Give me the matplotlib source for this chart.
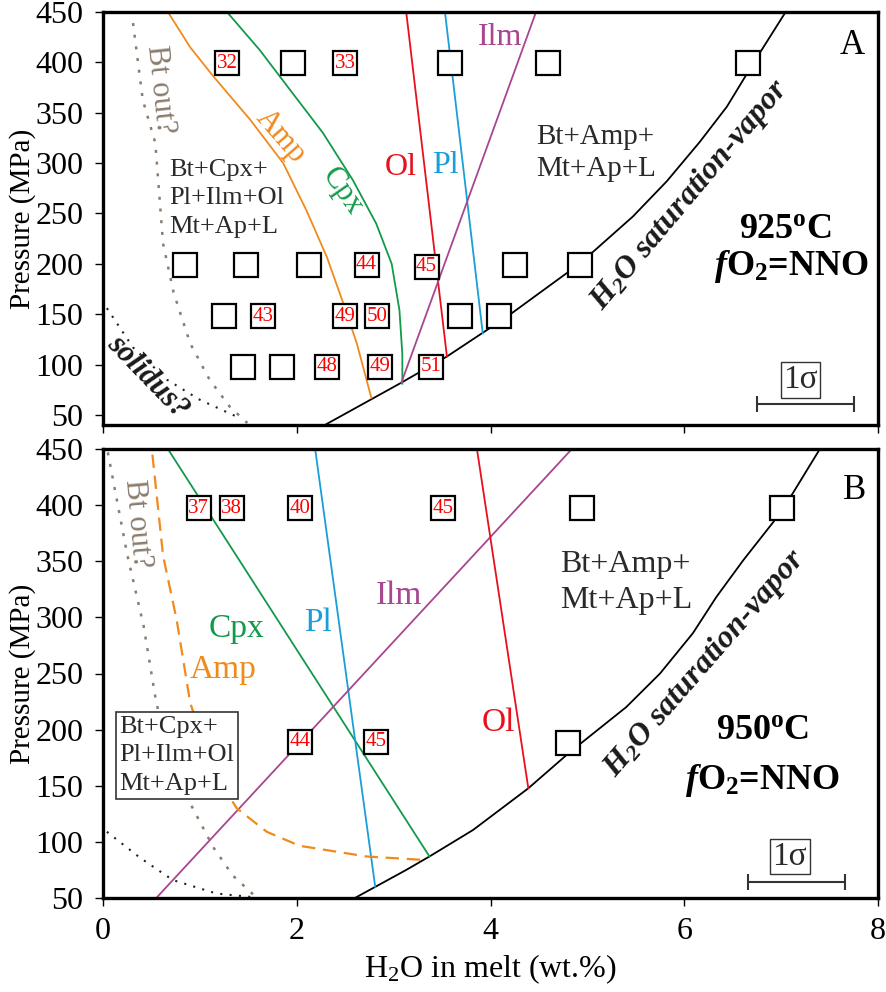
import matplotlib
matplotlib.use("Agg")
import matplotlib.pyplot as plt

plt.rcParams['font.family'] = ['Liberation Serif', 'DejaVu Serif']
plt.rcParams['mathtext.fontset'] = 'custom'
plt.rcParams['mathtext.rm'] = 'Liberation Serif'
plt.rcParams['mathtext.it'] = 'Liberation Serif:italic:bold'
plt.rcParams['mathtext.bf'] = 'Liberation Serif:bold'
plt.rcParams['mathtext.default'] = 'regular'

# ---- panel A (925 C) ----
a_run_x = [1.28, 1.96, 2.50, 3.58, 4.59, 6.66,
           0.85, 1.48, 2.13, 2.72, 3.34, 4.25, 4.92,
           1.25, 1.65, 2.50, 2.83, 3.68, 4.09,
           1.45, 1.85, 2.31, 2.86, 3.39]
a_run_p = [399, 399, 399, 399, 399, 399,
           199, 199, 199, 199, 197, 199, 199,
           148, 148, 148, 148, 148, 148,
           98, 98, 98, 98, 98]
a_run_lab = ['32', '', '33', '', '', '',
             '', '', '', '44', '45', '', '',
             '', '43', '49', '50', '', '',
             '', '', '48', '49', '51']

a_sat_x = [2.29, 3.07, 3.55, 3.99, 4.22, 4.79, 5.06, 5.47, 5.82, 6.16, 6.44, 6.63, 6.81, 7.04]
a_sat_p = [40, 81.5, 108, 136, 151, 191, 212, 247, 282, 321, 356, 386, 414, 449]
a_amp_x = [0.67, 0.90, 1.14, 1.52, 1.86, 2.10, 2.31, 2.48, 2.62, 2.77]
a_amp_p = [450, 415, 386, 343, 300, 253, 207, 161, 121, 67]
a_cpx_x = [1.28, 1.62, 1.96, 2.27, 2.58, 2.82, 2.98, 3.06, 3.09, 3.09]
a_cpx_p = [450, 412, 369, 330, 283, 240, 200, 154, 110, 81]
a_ol_x = [3.13, 3.55]
a_ol_p = [450, 108]
a_pl_x = [3.53, 3.92]
a_pl_p = [450, 131]
a_ilm_x = [4.47, 3.08]
a_ilm_p = [450, 82]
a_bt_x = [0.31, 0.41, 0.54, 0.62, 0.73, 0.90, 1.10, 1.31, 1.49]
a_bt_p = [439, 363, 320, 220, 171, 121, 85, 58, 42]
a_sol_x = [0.04, 0.31, 0.66, 1.00, 1.41]
a_sol_p = [156, 117, 85, 65, 47]

# ---- panel B (950 C) ----
b_run_x = [0.99, 1.33, 2.03, 3.51, 4.94, 7.01, 2.03, 2.82, 4.80]
b_run_p = [397, 397, 397, 397, 397, 397, 189, 189, 188]
b_run_lab = ['37', '38', '40', '45', '', '', '44', '45', '']

b_sat_x = [2.60, 3.13, 3.37, 3.82, 4.39, 4.82, 5.40, 5.75, 6.09, 6.33, 6.61, 6.92, 7.12, 7.40]
b_sat_p = [50, 75, 87, 110.6, 147.7, 180, 220, 250, 286, 318, 351, 385, 410.5, 450]
b_cpx_x = [0.67, 3.37]
b_cpx_p = [450, 87]
b_pl_x = [2.19, 2.81]
b_pl_p = [450, 60]
b_ilm_x = [0.55, 4.84]
b_ilm_p = [50, 450]
b_ol_x = [3.86, 4.39]
b_ol_p = [450, 148]
b_amp_x = [0.51, 0.62, 0.76, 0.90, 1.05, 1.25, 1.38, 1.69, 2.03, 2.72, 3.29]
b_amp_p = [445, 355, 298, 224, 185, 148, 130, 109, 96.5, 87, 84]
b_bt_x = [0.05, 0.25, 0.42, 0.55, 0.70, 0.92, 1.14, 1.34, 1.59]
b_bt_p = [447, 356, 292, 224, 175, 131, 95, 70, 50]
b_sol_x = [0.04, 0.38, 0.72, 1.17, 1.52]
b_sol_p = [109, 86, 66, 54, 51]

ORANGE = '#f08a1c'
GREEN = '#129a4a'
RED = '#e8101c'
BLUE = '#1a9ed8'
PURPLE = '#a8468f'
GREY = '#8a7c6e'
TXT = '#2a2a2a'

fig = plt.figure(figsize=(8.86, 9.92), dpi=100)
axA = fig.add_axes([103 / 886, (992 - 425) / 992, 775 / 886, 413 / 992])
axB = fig.add_axes([103 / 886, (992 - 898) / 992, 775 / 886, 449 / 992])


def runs(ax, xs, ps, labs):
    ax.plot(xs, ps, ls='none', marker='s', ms=17, mfc='white', mec='black',
            mew=1.6, zorder=5)
    for x, p, lab in zip(xs, ps, labs):
        if lab:
            ax.text(x, p, lab, color='red', fontsize=15, ha='center',
                    va='center', zorder=6)


def frame(ax, ylo):
    ax.set_xlim(0, 8)
    ax.set_ylim(ylo, 450)
    ax.set_xticks([0, 2, 4, 6, 8])
    ax.set_yticks(range(50, 451, 50))
    for s in ax.spines.values():
        s.set_linewidth(2.4)
    ax.tick_params(direction='out', length=6, width=1, labelsize=23, pad=8)
    ax.set_ylabel('Pressure (MPa)', fontsize=21)
    ax.yaxis.set_label_coords(-0.086, 0.5)


def sigma(ax, xc, py, tx, ty):
    ax.errorbar([xc], [py], xerr=[0.5], fmt='none', ecolor='#333333',
                elinewidth=1.5, capsize=6, capthick=1.5)
    ax.text(tx, ty, '1σ', fontsize=24, ha='center', va='center', color=TXT,
            bbox=dict(boxstyle='square,pad=0.08', fc='white', ec='#333333', lw=1))


# ---------- A ----------
ax = axA
frame(ax, 40)
ax.tick_params(labelbottom=False)
ax.plot(a_sat_x, a_sat_p, color='black', lw=1.3)
ax.plot(a_amp_x, a_amp_p, color=ORANGE, lw=1.3)
ax.plot(a_cpx_x, a_cpx_p, color=GREEN, lw=1.3)
ax.plot(a_ol_x, a_ol_p, color=RED, lw=1.3)
ax.plot(a_pl_x, a_pl_p, color=BLUE, lw=1.3)
ax.plot(a_ilm_x, a_ilm_p, color=PURPLE, lw=1.3)
ax.plot(a_bt_x, a_bt_p, color=GREY, lw=1.8, ls=(0, (1.2, 3.5)))
ax.plot(a_sol_x, a_sol_p, color='#222222', lw=1.5, ls=(0, (1, 3.5)))
runs(ax, a_run_x, a_run_p, a_run_lab)

ax.text(0.59, 373, 'Bt out?', color=GREY, fontsize=22, rotation=-84,
        ha='center', va='center')
ax.text(1.83, 326, 'Amp', color=ORANGE, fontsize=22, rotation=-49,
        ha='center', va='center')
ax.text(2.47, 272, 'Cpx', color=GREEN, fontsize=22, rotation=-55,
        ha='center', va='center')
ax.text(3.07, 296, 'Ol', color=RED, fontsize=23, ha='center', va='center')
ax.text(3.53, 298, 'Pl', color=BLUE, fontsize=23, ha='center', va='center')
ax.text(4.10, 425, 'Ilm', color=PURPLE, fontsize=23, ha='center', va='center')
ax.text(0.68, 265, 'Bt+Cpx+\nPl+Ilm+Ol\nMt+Ap+L', color=TXT, fontsize=19,
        ha='left', va='center', linespacing=1.38)
ax.text(4.47, 310, 'Bt+Amp+\nMt+Ap+L', color=TXT, fontsize=21,
        ha='left', va='center', linespacing=1.3)
ax.text(0.46, 88, 'solidus?', fontsize=22, fontweight='bold', style='italic',
        rotation=-46, ha='center', va='center', color='#1a1a1a')
ax.text(6.06, 268, 'H$_2$O saturation-vapor', fontsize=23, fontweight='bold',
        style='italic', rotation=50, ha='center', va='center', color='#1a1a1a')
ax.text(7.04, 234, '925$^o$C', fontsize=26, fontweight='bold', ha='center',
        va='center')
ax.text(7.11, 197, r'$\it{f}$O$_2$=NNO', fontsize=26, fontweight='bold',
        ha='center', va='center')
ax.text(7.73, 417, 'A', fontsize=25, ha='center', va='center')
sigma(ax, 7.25, 61, 7.2, 85)

# ---------- B ----------
ax = axB
frame(ax, 50)
ax.plot(b_sat_x, b_sat_p, color='black', lw=1.3)
ax.plot(b_cpx_x, b_cpx_p, color=GREEN, lw=1.3)
ax.plot(b_pl_x, b_pl_p, color=BLUE, lw=1.3)
ax.plot(b_ilm_x, b_ilm_p, color=PURPLE, lw=1.3)
ax.plot(b_ol_x, b_ol_p, color=RED, lw=1.3)
ax.plot(b_amp_x, b_amp_p, color=ORANGE, lw=1.6, ls=(0, (6, 3.5)))
ax.plot(b_bt_x, b_bt_p, color=GREY, lw=1.8, ls=(0, (1.2, 3.5)))
ax.plot(b_sol_x, b_sol_p, color='#222222', lw=1.5, ls=(0, (1, 3.5)))
runs(ax, b_run_x, b_run_p, b_run_lab)

ax.text(0.35, 384, 'Bt out?', color=GREY, fontsize=22, rotation=-85,
        ha='center', va='center')
ax.text(1.38, 290, 'Cpx', color=GREEN, fontsize=24, ha='center', va='center')
ax.text(1.24, 253, 'Amp', color=ORANGE, fontsize=24, ha='center', va='center')
ax.text(2.22, 295, 'Pl', color=BLUE, fontsize=24, ha='center', va='center')
ax.text(3.05, 319, 'Ilm', color=PURPLE, fontsize=24, ha='center', va='center')
ax.text(4.08, 206, 'Ol', color=RED, fontsize=24, ha='center', va='center')
ax.text(0.17, 177, 'Bt+Cpx+\nPl+Ilm+Ol\nMt+Ap+L', color=TXT, fontsize=19,
        ha='left', va='center', linespacing=1.4, zorder=7,
        bbox=dict(boxstyle='square,pad=0.15', fc='white', ec='#333333', lw=1.2))
ax.text(4.72, 331, 'Bt+Amp+\nMt+Ap+L', color=TXT, fontsize=23,
        ha='left', va='center', linespacing=1.35)
ax.text(6.21, 259, 'H$_2$O saturation-vapor', fontsize=23, fontweight='bold',
        style='italic', rotation=49, ha='center', va='center', color='#1a1a1a')
ax.text(6.81, 199, '950$^o$C', fontsize=26, fontweight='bold', ha='center',
        va='center')
ax.text(6.81, 155, r'$\it{f}$O$_2$=NNO', fontsize=26, fontweight='bold',
        ha='center', va='center')
ax.text(7.76, 413, 'B', fontsize=25, ha='center', va='center')
sigma(ax, 7.16, 64, 7.09, 87)
ax.set_xlabel('H$_2$O in melt (wt.%)', fontsize=23, labelpad=4)

fig.savefig('out.png', dpi=100)
